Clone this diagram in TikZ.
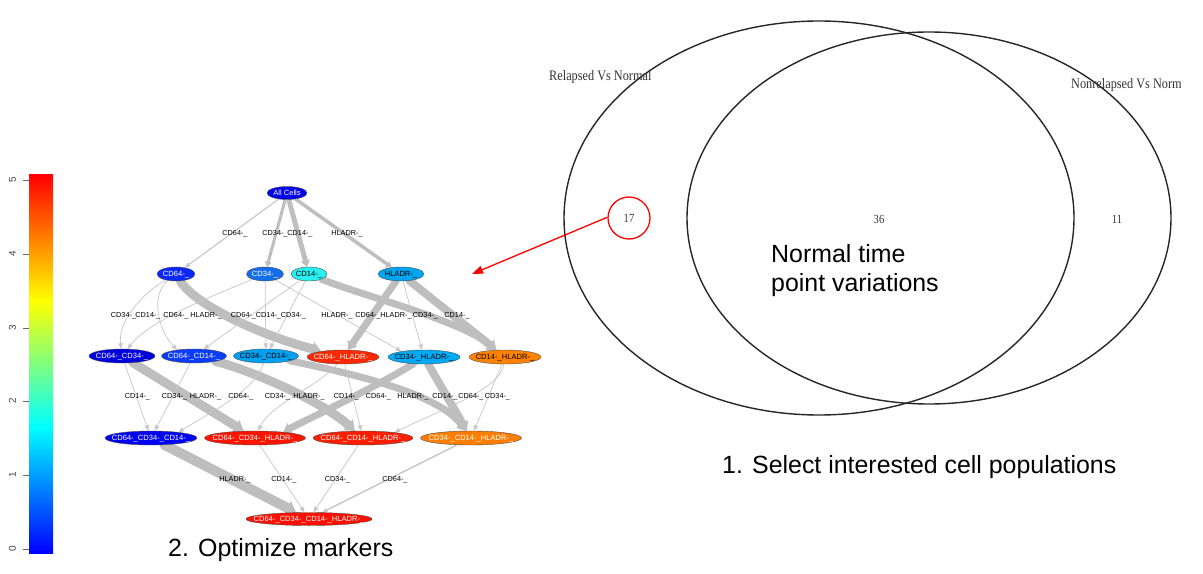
\documentclass[tikz,border=0pt]{standalone}
\usepackage{fontspec}
\setmainfont{Liberation Sans}
\newfontfamily\vennfont[FakeStretch=0.85]{Liberation Serif}
\usetikzlibrary{shapes.geometric,arrows.meta}
\pgfdeclarelayer{edges}
\pgfsetlayers{edges,main}
\pgfdeclareverticalshading{colbar}{100bp}{color(0bp)=(blue); color(25bp)=(blue); color(41.67bp)=(cyan); color(58.33bp)=(yellow); color(75bp)=(red); color(100bp)=(red)}
\definecolor{thingray}{RGB}{200,200,200}
\definecolor{thickgray}{RGB}{190,190,190}
\definecolor{cAll}{RGB}{0,0,235}
\definecolor{cA64}{RGB}{10,40,250}
\definecolor{cA34}{RGB}{20,110,235}
\definecolor{cA14}{RGB}{40,240,240}
\definecolor{cAHL}{RGB}{0,165,240}
\definecolor{cB6434}{RGB}{0,0,220}
\definecolor{cB6414}{RGB}{10,60,250}
\definecolor{cB3414}{RGB}{0,160,240}
\definecolor{cB64HL}{RGB}{255,40,0}
\definecolor{cB34HL}{RGB}{0,170,245}
\definecolor{cB14HL}{RGB}{255,130,0}
\definecolor{cC643414}{RGB}{0,0,240}
\definecolor{cC6434HL}{RGB}{255,20,0}
\definecolor{cC6414HL}{RGB}{255,30,0}
\definecolor{cC3414HL}{RGB}{255,125,0}
\definecolor{cD}{RGB}{255,15,0}
\newcommand\nfnt{\fontsize{7.6}{8}\selectfont}
\newcommand\lfnt{\fontsize{7.3}{8}\selectfont}
\newcommand\bfnt{\fontsize{25}{30}\selectfont}
\newcommand\ptxt[1]{\makebox[0pt]{#1}}
\tikzset{
  pop/.style={ellipse, draw=black!70, line width=0.4bp, inner sep=0pt,
    minimum height=14bp, font=\nfnt, text height=5.4bp, text depth=0bp},
  wtext/.style={text=white},
  elab/.style={font=\lfnt, inner sep=0pt, text height=5.2bp, text depth=0bp},
  thinE/.style={draw=thingray, line width=0.75bp, -{Triangle[length=5.5bp,width=4.5bp]}},
  thickE/.style={draw=thickgray, line width=#1, line cap=round,
    -{Triangle[length=3bp 0.7,width=3bp 1.2]}},
  thickE/.default=3bp,
  venn/.style={draw=black!85, line width=1.4bp},
  vlab/.style={font=\vennfont\fontsize{14.5}{16}\selectfont, text=black!80, inner sep=0pt},
  vnum/.style={font=\vennfont\fontsize{12.5}{14}\selectfont, text=black!80, inner sep=0pt},
  bigtxt/.style={font=\bfnt, inner sep=0pt, anchor=base west},
  ticklab/.style={font=\fontsize{10}{11}\selectfont, text=black!75, inner sep=0pt}
}
\begin{document}
\begin{tikzpicture}[x=1bp,y=-1bp]
\useasboundingbox (0,0) rectangle (1203,574);

% ---------- colour bar ----------
\shade[shading=colbar] (29,175) rectangle (53,553);
\foreach \v/\yy in {0/549,1/475,2/401,3/328,4/254,5/180} {
  \draw[black!60, line width=0.8bp] (23,\yy) -- (29,\yy);
  \node[ticklab, rotate=90] (tick\v) at (12.5,\yy) {\v};
}

% ---------- graph nodes ----------
\node[pop, minimum width=40bp, minimum height=13bp, fill=cAll, wtext] (r) at (287,193) {\ptxt{All Cells}};

\node[pop, minimum width=38bp, fill=cA64, wtext] (a64) at (176,274) {\ptxt{CD64-\_}};
\node[pop, minimum width=37bp, fill=cA34, wtext] (a34) at (265,274) {\ptxt{CD34-\_}};
\node[pop, minimum width=36bp, fill=cA14] (a14) at (309,274) {\ptxt{CD14-\_}};
\node[pop, minimum width=46bp, fill=cAHL] (aHL) at (401,274) {\ptxt{HLADR-\_}};

\node[pop, minimum width=66bp, fill=cB6434, wtext] (b6434) at (122,356) {\ptxt{CD64-\_CD34-\_}};
\node[pop, minimum width=65bp, fill=cB6414, wtext] (b6414) at (194,356) {\ptxt{CD64-\_CD14-\_}};
\node[pop, minimum width=65bp, fill=cB3414] (b3414) at (266,356) {\ptxt{CD34-\_CD14-\_}};
\node[pop, minimum width=72bp, fill=cB64HL, wtext] (b64HL) at (343,357) {\ptxt{CD64-\_HLADR-\_}};
\node[pop, minimum width=72bp, fill=cB34HL] (b34HL) at (424,357) {\ptxt{CD34-\_HLADR-\_}};
\node[pop, minimum width=72bp, fill=cB14HL] (b14HL) at (505,357) {\ptxt{CD14-\_HLADR-\_}};

\node[pop, minimum width=92bp, fill=cC643414, wtext] (c643414) at (151,438) {\ptxt{CD64-\_CD34-\_CD14-\_}};
\node[pop, minimum width=101bp, fill=cC6434HL, wtext] (c6434HL) at (255,438) {\ptxt{CD64-\_CD34-\_HLADR-\_}};
\node[pop, minimum width=100bp, fill=cC6414HL, wtext] (c6414HL) at (363,438) {\ptxt{CD64-\_CD14-\_HLADR-\_}};
\node[pop, minimum width=101bp, fill=cC3414HL, wtext] (c3414HL) at (471,438) {\ptxt{CD34-\_CD14-\_HLADR-\_}};

\node[pop, minimum width=126bp, minimum height=13bp, fill=cD, wtext] (d) at (309,519) {\ptxt{CD64-\_CD34-\_CD14-\_HLADR-\_}};

% ---------- graph edges ----------
\begin{pgfonlayer}{edges}
% level 0 -> 1
\draw[thinE, line width=1.2bp] (r) -- (a64);
\draw[thickE=3bp] (r) -- (a34);
\draw[thickE=5bp] (r) -- (a14);
\draw[thickE=3.5bp] (r) -- (aHL);
% level 1 -> 2
\draw[thinE] (a64) .. controls (140,295) and (118,322) .. (b6434);
\draw[thinE] (a64) .. controls (150,295) and (158,330) .. (b6414.160);
\draw[thickE=9bp] (a64) .. controls (195,305) and (260,335) .. (b64HL);
\draw[thinE] (a34) .. controls (215,295) and (150,320) .. (b6434);
\draw[thinE] (a34) -- (b3414);
\draw[thinE] (a34) -- (b34HL.166);
\draw[thinE] (a14) -- (b6414);
\draw[thinE] (a14) -- (b3414);
\draw[thickE=7bp] (a14) .. controls (360,295) and (460,320) .. (b14HL);
\draw[thickE=7bp] (aHL) -- (b64HL);
\draw[thinE] (aHL) -- (b34HL);
\draw[thickE=8bp] (aHL) -- (b14HL);
% level 2 -> 3
\draw[thinE] (b6434) -- (c643414);
\draw[thickE=9bp] (b6434) -- (c6434HL);
\draw[thinE] (b6414) -- (c643414);
\draw[thickE=9bp] (b6414) .. controls (250,370) and (320,400) .. (c6414HL);
\draw[thinE] (b3414) .. controls (255,390) and (215,410) .. (c643414.12);
\draw[thickE=7bp] (b3414) .. controls (360,375) and (440,395) .. (c3414HL);
\draw[thinE] (b64HL) .. controls (320,385) and (270,405) .. (c6434HL);
\draw[thinE] (b64HL) -- (c6414HL);
\draw[thickE=7bp] (b34HL) .. controls (380,385) and (310,418) .. (c6434HL.12);
\draw[thickE=8bp] (b34HL) -- (c3414HL);
\draw[thinE] (b14HL) .. controls (500,390) and (440,410) .. (c6414HL.10);
\draw[thinE] (b14HL) -- (c3414HL);
% level 3 -> 4
\draw[thickE=10bp] (c643414) -- (d);
\draw[thinE] (c6434HL) -- (d);
\draw[thinE] (c6414HL) -- (d);
\draw[thinE, line width=1.5bp] (c3414HL) -- (d);
\end{pgfonlayer}

% ---------- edge labels ----------
\node[elab] (l01) at (235,233) {CD64-\_};
\node[elab] (l02) at (275,233) {CD34-\_};
\node[elab] (l03) at (300,233) {CD14-\_};
\node[elab] (l04) at (347,233) {HLADR-\_};

\node[elab] (l11) at (123.5,315) {CD34-\_};
\node[elab] (l12) at (148,315) {CD14-\_};
\node[elab] (l13) at (176,315) {CD64-\_};
\node[elab] (l14) at (206,315) {HLADR-\_};
\node[elab] (l15) at (243.5,315) {CD64-\_};
\node[elab] (l16) at (268.5,315) {CD14-\_};
\node[elab] (l17) at (293.5,315) {CD34-\_};
\node[elab] (l18) at (337,315) {HLADR-\_};
\node[elab] (l19) at (368,315) {CD64-\_};
\node[elab] (l110) at (396,315) {HLADR-\_};
\node[elab] (l111) at (425.5,315) {CD34-\_};
\node[elab] (l112) at (457,315) {CD14-\_};

\node[elab] (l21) at (137.5,396) {CD14-\_};
\node[elab] (l22) at (174.5,396) {CD34-\_};
\node[elab] (l23) at (205.5,396) {HLADR-\_};
\node[elab] (l24) at (241,396) {CD64-\_};
\node[elab] (l25) at (277.5,396) {CD34-\_};
\node[elab] (l26) at (309,396) {HLADR-\_};
\node[elab] (l27) at (346.5,396) {CD14-\_};
\node[elab] (l28) at (378.5,396) {CD64-\_};
\node[elab] (l29) at (413,396) {HLADR-\_};
\node[elab] (l210) at (445,396) {CD14-\_};
\node[elab] (l211) at (471,396) {CD64-\_};
\node[elab] (l212) at (497.5,396) {CD34-\_};

\node[elab] (l31) at (235,479) {HLADR-\_};
\node[elab] (l32) at (284,479) {CD14-\_};
\node[elab] (l33) at (337.5,479) {CD34-\_};
\node[elab] (l34) at (395,479) {CD64-\_};

% ---------- Venn diagram ----------
\draw[venn] (819,218) ellipse [x radius=255, y radius=197];
\draw[venn] (929,218) ellipse [x radius=242, y radius=186];
\node[vlab, anchor=base west] (vl1) at (549,80.5) {Relapsed Vs Normal};
\begin{scope}
  \clip (0,0) rectangle (1180,574);
  \node[vlab, anchor=base west] (vl2) at (1071,89) {Nonrelapsed Vs Norm};
\end{scope}
\node[circle, draw=red, line width=1.3bp, minimum size=42bp, inner sep=0pt, vnum] (c17) at (629,218) {17};
\node[vnum] (n36) at (879,219) {36};
\node[vnum] (n11) at (1117,219) {11};
\coordinate (tip) at (472,274);
\draw[red, line width=1.3bp, -{Triangle[length=11bp,width=8bp]}] (c17.178) -- (tip);

% ---------- captions ----------
\node[bigtxt] (t2a) at (771,263) {Normal time};
\node[bigtxt] (t2b) at (771,292) {point variations};
\node[bigtxt] (t1) at (722,473) {1. Select interested cell populations};
\node[bigtxt] (t3) at (168,556) {2. Optimize markers};
\end{tikzpicture}
\end{document}
